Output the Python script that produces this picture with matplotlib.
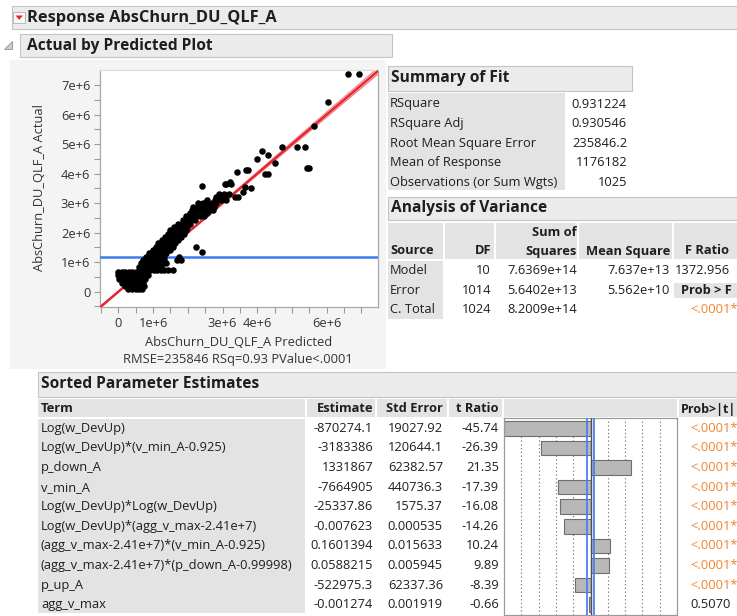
import numpy as np
import matplotlib
matplotlib.use("Agg")
import matplotlib.pyplot as plt
from matplotlib.patches import Rectangle, Polygon

plt.rcParams['font.family'] = ['Open Sans', 'DejaVu Sans']

# ---------------- data ----------------
# Actual by Predicted points (millions)
predicted_m = [
    0.28, 0.40, 0.50, 0.60, 0.68,
    0.18, 0.28, 0.40, 0.52, 0.65, 0.74,
    0.10, 0.20, 0.32, 0.45, 0.58, 0.70,
    0.02, 0.15, 0.28, 0.40, 0.52, 0.65, 0.78,
    0.00, 0.12, 0.25, 0.38, 0.50, 0.62, 0.75, 0.86,
    0.00, 0.10, 0.20, 0.30, 0.40, 0.50, 0.60, 0.70, 0.80,
    0.92, 1.02, 1.12, 1.22, 1.32, 1.42, 1.56,
    0.60, 0.72, 0.85, 0.98, 1.10, 1.22,
    0.65, 0.78, 0.90, 1.02, 1.15, 1.28, 1.36,
    0.72, 0.85, 0.97, 1.10, 1.22, 1.32, 1.70, 1.80,
    0.80, 0.92, 1.05, 1.18, 1.30, 1.75,
    0.88, 1.00, 1.12, 1.25, 1.38,
    1.00, 1.12, 1.25, 1.38, 1.48,
    1.08, 1.20, 1.32, 1.45, 1.56, 2.25,
    1.15, 1.28, 1.40, 1.52, 1.62,
    1.25, 1.38, 1.50, 1.62, 1.72,
    1.35, 1.48, 1.60, 1.72, 1.80,
    1.42, 1.55, 1.68, 1.80, 1.90,
    1.48, 1.60, 1.72, 1.85, 1.95,
    1.60, 1.75, 1.88, 1.98,
    1.72, 1.82, 1.95, 2.05,
    1.86, 1.98, 2.10, 2.22,
    1.95, 2.08, 2.20, 2.35, 2.48,
    2.05, 2.18, 2.30, 2.42, 2.55,
    2.12, 2.25, 2.38, 2.50, 2.62, 2.72,
    2.15, 2.30, 2.45, 2.60, 2.75,
    2.30, 2.45, 2.55, 2.70, 2.80,
    2.55, 2.78, 2.95, 3.10,
    2.82, 2.95, 3.05, 3.35, 3.44,
    2.90, 3.05, 3.20,
    2.40, 3.59, 3.83, 3.64, 2.40, 3.11, 3.06, 3.25, 3.23,
    4.22, 4.32, 3.43, 3.69, 3.74, 5.44, 5.50, 4.50, 3.99,
    4.31, 4.14, 4.70, 5.16, 5.39, 5.63, 6.03, 6.63, 6.94,
]
actual_m = (
    [0.08] * 5 + [0.18] * 6 + [0.30] * 6 + [0.42] * 7 + [0.55] * 8 +
    [0.66] * 9 + [0.72] * 7 + [0.85] * 6 + [0.96] * 7 + [1.08] * 8 +
    [1.19] * 6 + [1.30] * 5 + [1.41] * 5 + [1.52] * 6 + [1.64] * 5 +
    [1.75] * 5 + [1.86] * 5 + [1.97] * 5 + [2.09] * 5 + [2.20] * 4 +
    [2.30] * 4 + [2.43] * 4 + [2.55] * 5 + [2.66] * 5 + [2.77] * 6 +
    [2.88] * 5 + [3.00] * 5 + [3.10] * 4 + [3.22] * 5 + [3.32] * 3 +
    [1.36, 3.37, 3.52, 3.56, 3.58, 3.64, 3.65, 3.65, 3.73,
     3.99, 3.99, 4.05, 4.13, 4.13, 4.20, 4.20, 4.35, 4.51,
     4.63, 4.77, 4.89, 4.89, 4.89, 5.62, 6.44, 7.38, 7.39]
)

rmse = 235846.2
mean_response = 1176182
n_obs = 1025
ss_model = 7.6369e14

x_tick_vals = [0, 1e6, 3e6, 4e6, 6e6]
x_tick_labels = ['0', '1e+6', '3e+6', '4e+6', '6e+6']
y_tick_vals = [0, 1e6, 2e6, 3e6, 4e6, 5e6, 6e6, 7e6]
y_tick_labels = ['0', '1e+6', '2e+6', '3e+6', '4e+6', '5e+6', '6e+6', '7e+6']

fit_labels = ['RSquare', 'RSquare Adj', 'Root Mean Square Error',
              'Mean of Response', 'Observations (or Sum Wgts)']
fit_values = ['0.931224', '0.930546', '235846.2', '1176182', '1025']

anova_source = ['Model', 'Error', 'C. Total']
anova_df = ['10', '1014', '1024']
anova_ss = ['7.6369e+14', '5.6402e+13', '8.2009e+14']
anova_ms = ['7.637e+13', '5.562e+10', '']
anova_f = '1372.956'
anova_p = '<.0001*'

terms = ['Log(w_DevUp)', 'Log(w_DevUp)*(v_min_A-0.925)', 'p_down_A', 'v_min_A',
         'Log(w_DevUp)*Log(w_DevUp)', 'Log(w_DevUp)*(agg_v_max-2.41e+7)',
         '(agg_v_max-2.41e+7)*(v_min_A-0.925)',
         '(agg_v_max-2.41e+7)*(p_down_A-0.99998)', 'p_up_A', 'agg_v_max']
estimates = ['-870274.1', '-3183386', '1331867', '-7664905', '-25337.86',
             '-0.007623', '0.1601394', '0.0588215', '-522975.3', '-0.001274']
std_errors = ['19027.92', '120644.1', '62382.57', '440736.3', '1575.37',
              '0.000535', '0.015633', '0.005945', '62337.36', '0.001919']
t_ratios = [-45.74, -26.39, 21.35, -17.39, -16.08, -14.26, 10.24, 9.89, -8.39, -0.66]
p_values = ['<.0001*'] * 9 + ['0.5070']

# ---------------- styling ----------------
W, H = 737, 616
HDR_FC, HDR_EC = '#ebebeb', '#c4c4c4'
CELL = '#e3e3e3'
PANEL = '#f4f4f4'
TXT = '#1e1e1e'
ORANGE = '#ee8430'
FS = 9.3
FS_HEAD = 11.2

fig = plt.figure(figsize=(W / 100, H / 100), dpi=100)
fig.patch.set_facecolor('white')
bg = fig.add_axes([0, 0, 1, 1])
bg.set_xlim(0, W)
bg.set_ylim(H, 0)
bg.axis('off')


def box(x0, y0, x1, y1, fc, ec='none', lw=0.8, z=1):
    bg.add_patch(Rectangle((x0, y0), x1 - x0, y1 - y0, facecolor=fc,
                           edgecolor=ec, lw=lw, zorder=z))


def txt(x, y, s, ha='left', size=FS, weight='normal', color=TXT, **kw):
    bg.text(x, y, s, ha=ha, va='center', fontsize=size, fontweight=weight,
            color=color, zorder=5, **kw)


# report header
box(12, 6, 737, 29, HDR_FC, HDR_EC)
box(13.5, 12, 25, 23, '#f8f8f8', '#b0b0b0', lw=0.6, z=2)
bg.add_patch(Polygon([(15.5, 15.5), (23, 15.5), (19.25, 19.8)], closed=True,
                     facecolor='#e0242c', edgecolor='none', zorder=3))
txt(27, 17.5, 'Response AbsChurn_DU_QLF_A', size=11.8, weight='bold')

box(20, 34, 392, 57, HDR_FC, HDR_EC)
bg.add_patch(Polygon([(4, 48.5), (12, 48.5), (12, 40.5)], closed=True,
                     facecolor='#d0d0d0', edgecolor='#909090', lw=0.6, zorder=3))
txt(27, 45.5, 'Actual by Predicted Plot', size=FS_HEAD, weight='bold')

# plot panel
box(10, 60, 386, 369, PANEL, z=0)

# ---------------- Actual by Predicted scatter ----------------
ax = fig.add_axes([100 / W, 1 - 307 / H, 278 / W, 237 / H])
ax.set_facecolor('white')
pred = np.array(predicted_m) * 1e6
act = np.array(actual_m) * 1e6
xlim = (-0.53e6, 7.48e6)
ylim = (-0.52e6, 7.51e6)
ax.set_xlim(*xlim)
ax.set_ylim(*ylim)

xx = np.linspace(xlim[0], xlim[1], 200)
half = 1.96 * rmse * np.sqrt(1 / n_obs + (xx - mean_response) ** 2 / ss_model)
ax.fill_between(xx, xx - half, xx + half, color='#f7b4ba', lw=0, zorder=1)
ax.plot(xx, xx + half, color='#f07f88', lw=0.8, zorder=2)
ax.plot(xx, xx - half, color='#f07f88', lw=0.8, zorder=2)
ax.plot(xx, xx, color='#e8222c', lw=1.6, zorder=3)
ax.axhline(mean_response, color='#3d7bf0', lw=1.8, zorder=3)
ax.scatter(pred, act, s=22, color='black', lw=0, zorder=4)

ax.set_xticks(x_tick_vals)
ax.set_xticklabels(x_tick_labels)
ax.set_xticks(np.arange(-0.5e6, 7.01e6, 0.5e6), minor=True)
ax.set_yticks(y_tick_vals)
ax.set_yticklabels(y_tick_labels)
ax.set_yticks(np.arange(-0.5e6, 7.01e6, 0.5e6), minor=True)
for which in ('major', 'minor'):
    ax.tick_params(which=which, length=4, width=0.8, color='#9a9a9a',
                   labelsize=9.3, labelcolor='#333333', pad=3)
for side, sp in ax.spines.items():
    sp.set_color('#a8a8a8')
    sp.set_linewidth(0.9)
ax.spines['top'].set_color('#dcdcdc')

txt(40, 188, 'AbsChurn_DU_QLF_A Actual', ha='center', size=9.3,
    color='#333333', rotation=90)
txt(239, 342, 'AbsChurn_DU_QLF_A Predicted', ha='center', size=9.3, color='#333333')
txt(238, 360, 'RMSE=235846 RSq=0.93 PValue<.0001', ha='center', size=9.3,
    color='#333333')

# ---------------- Summary of Fit ----------------
box(388, 66, 632, 91, HDR_FC, HDR_EC)
txt(391, 78.5, 'Summary of Fit', size=FS_HEAD, weight='bold')
box(388, 93, 565, 190, CELL)
for i, (lab, val) in enumerate(zip(fit_labels, fit_values)):
    y = 104 + i * 19.6
    txt(390, y, lab)
    txt(627, y, val, ha='right')

# ---------------- Analysis of Variance ----------------
box(388, 197, 737, 220, HDR_FC, HDR_EC)
txt(391, 208.5, 'Analysis of Variance', size=FS_HEAD, weight='bold')
for x0, x1 in [(388, 443), (445, 494), (496, 577), (579, 672), (674, 737)]:
    box(x0, 223, x1, 259, CELL)
box(388, 261, 443, 319, CELL)
txt(390, 251, 'Source', weight='bold')
txt(491, 251, 'DF', ha='right', weight='bold')
txt(577, 232, 'Sum of', ha='right', weight='bold')
txt(577, 251, 'Squares', ha='right', weight='bold')
txt(670, 251, 'Mean Square', ha='right', weight='bold')
txt(685, 251, 'F Ratio', weight='bold')
for i in range(3):
    y = 271 + i * 19.3
    txt(390, y, anova_source[i])
    txt(491, y, anova_df[i], ha='right')
    txt(577, y, anova_ss[i], ha='right')
    txt(670, y, anova_ms[i], ha='right')
txt(675, 271, anova_f)
box(674, 283, 737, 298, CELL)
txt(681, 290.5, 'Prob > F', weight='bold')
txt(690, 309.5, anova_p, color=ORANGE)

# ---------------- Sorted Parameter Estimates ----------------
box(38, 372, 737, 397, HDR_FC, HDR_EC)
txt(41, 384.5, 'Sorted Parameter Estimates', size=FS_HEAD, weight='bold')
for x0, x1 in [(38, 305), (307, 375), (377, 447), (449, 502), (504, 677), (679, 737)]:
    box(x0, 399, x1, 417, CELL)
box(38, 419, 305, 613, CELL)
txt(41, 409, 'Term', weight='bold')
txt(373, 409, 'Estimate', ha='right', weight='bold')
txt(443, 409, 'Std Error', ha='right', weight='bold')
txt(499, 409, 't Ratio', ha='right', weight='bold')
txt(681, 409, 'Prob>|t|', weight='bold', size=9.0)

row0, dy = 428.3, 19.6
for i in range(len(terms)):
    y = row0 + i * dy
    txt(41, y, terms[i])
    txt(373, y, estimates[i], ha='right')
    txt(443, y, std_errors[i], ha='right')
    txt(499, y, f'{t_ratios[i]:.2f}', ha='right')
    txt(690, y, p_values[i], color=ORANGE if p_values[i].startswith('<') else TXT)

# t-ratio bar chart
bx = fig.add_axes([504 / W, 1 - 615 / H, 173 / W, 197 / H])
bx.set_xlim(-46, 46)
bx.set_ylim(len(terms) - 0.5 + 0.03, -0.53)
for g in (-36.8, -27.6, -18.4, -9.2, 9.2, 18.4, 27.6, 36.8):
    bx.axvline(g, color='#7a7a7a', lw=0.8, ls=(0, (1.2, 2.2)), zorder=1)
bx.barh(range(len(terms)), t_ratios, height=0.74, color='#b8b8b8',
        edgecolor='#6e6e6e', lw=0.8, zorder=2)
bx.axvline(0, color='#505050', lw=1.0, zorder=3)
bx.axvline(-1.96, color='#4a80f0', lw=1.3, zorder=4)
bx.axvline(1.96, color='#4a80f0', lw=1.3, zorder=4)
bx.set_xticks([])
bx.set_yticks([])
for sp in bx.spines.values():
    sp.set_color('#9a9a9a')
    sp.set_linewidth(0.9)

fig.savefig('out.png', dpi=100)
